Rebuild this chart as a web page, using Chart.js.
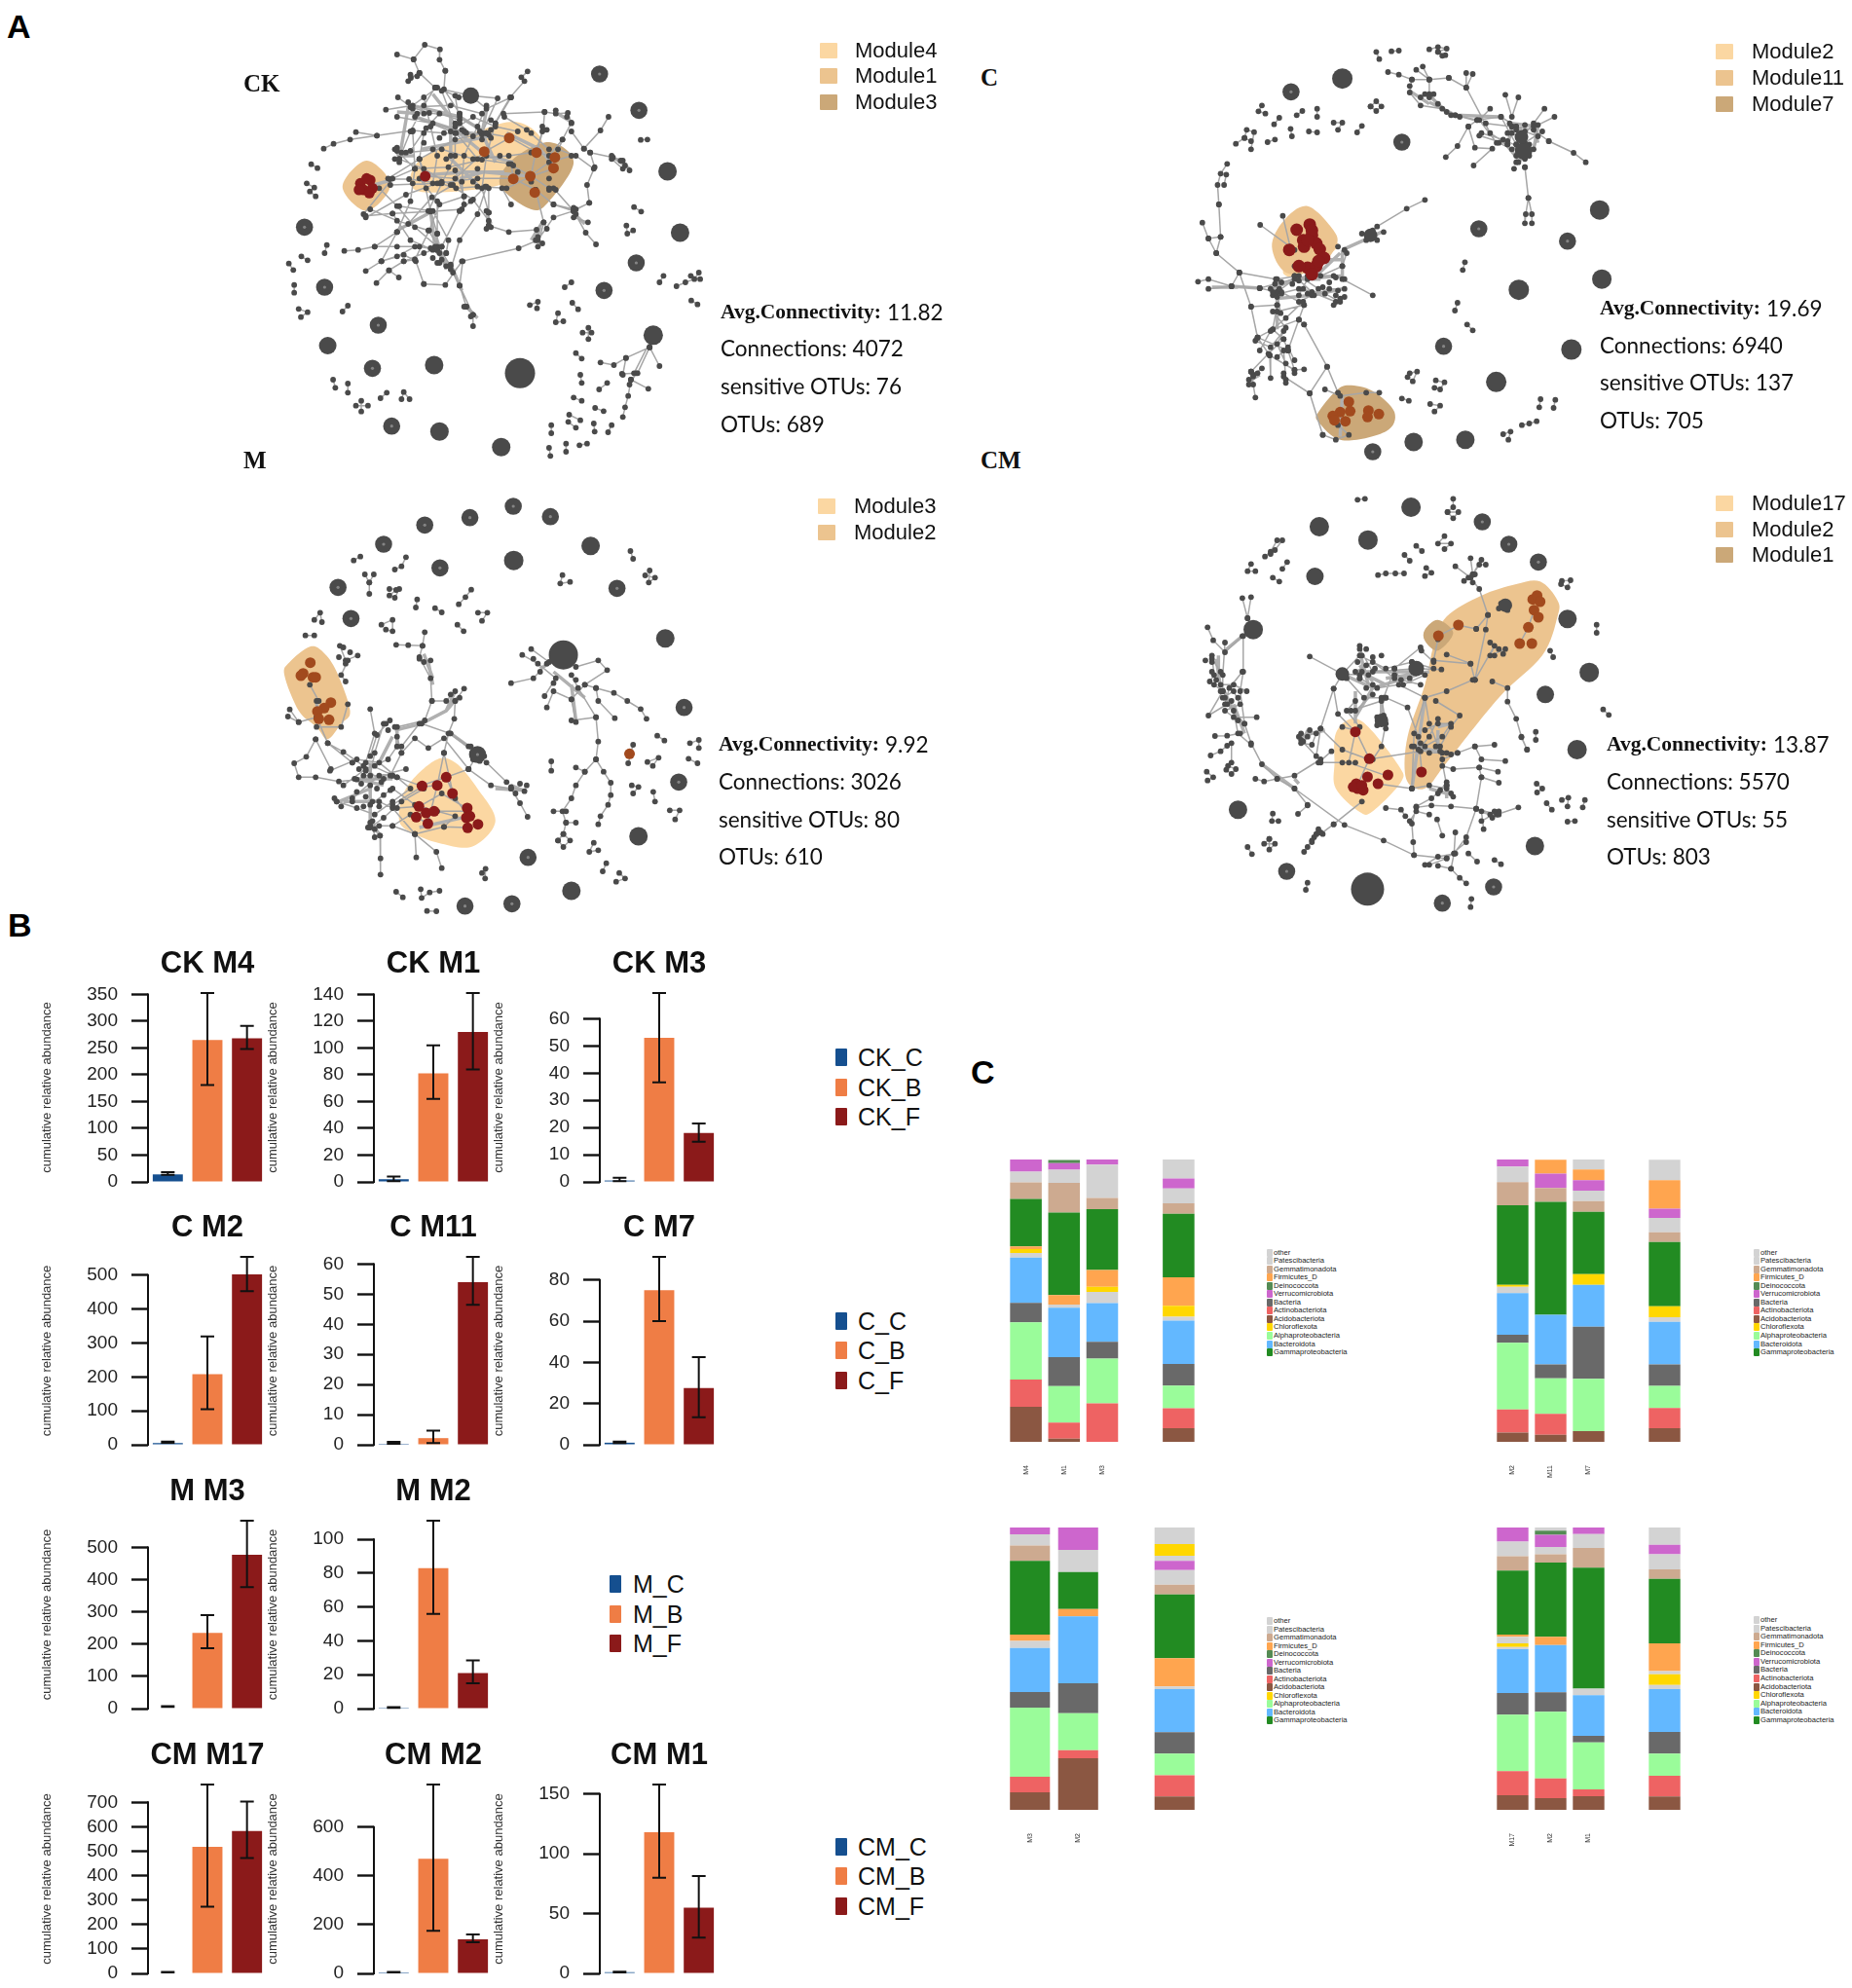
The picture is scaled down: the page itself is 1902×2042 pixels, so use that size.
<!DOCTYPE html>
<html>
<head>
<meta charset="utf-8">
<title>Networks and module abundance</title>
<script src="https://cdn.jsdelivr.net/npm/chart.js@4"></script>
<style>
  html, body { margin: 0; padding: 0; background: #fff; }
  #page { position: relative; width: 1902px; height: 2042px; overflow: hidden; font-family: "Liberation Sans", sans-serif; }
  canvas { position: absolute; }
  .txt { position: absolute; white-space: nowrap; transform: translateY(-50%); color: #111; line-height: 1; }
  .sw { position: absolute; }
</style>
</head>
<body>
<div id="page"></div>
<script>
// ---- panel A, network CK (values are read in a 1568 x 1380 picture grid) ----
const ckHubs = [905,468, 933,657, 145,1005, 383,1065, 395,1270, 533,1318, 575,1090, 873,973, 465,235];
const ckHubSizes = [9.5, 9.5, 9, 9.5, 9.5, 9.5, 15.5, 10, 8.5];
const ckRings = [753,168, 841,280, 835,750, 763,835, 138,825, 93,640, 258,942, 245,1075, 288,1253];
const ckLinks = [
  [300,108,337,123,362,78,396,92,395,124,408,158], [337,123,350,165,331,180,350,165,385,210,465,235],
  [408,158,405,215,440,290], [592,160,578,178,585,190,553,240,510,340],
  [275,278,335,265,390,210,438,240,465,235,525,243,490,350], [302,240,332,270,372,288,440,300,500,350,553,364],
  [630,285,655,290,682,288,690,318,670,370,655,425], [538,290,630,285,627,340,612,410],
  [773,300,755,342,718,398,732,410,742,455,725,510,730,565,700,585], [208,347,255,358,335,342,405,350,490,355],
  [136,398,158,383,195,370,255,358], [295,400,305,430,330,405,365,335,395,290,440,310],
  [350,430,363,483,430,490,495,408,553,364,612,410,655,425,650,460], [300,405,340,460,415,455,490,432,555,445,560,490],
  [284,492,327,492,395,505,432,520,480,515,545,520,600,483,650,460], [230,605,290,598,375,592,445,585,465,560,497,515],
  [305,575,375,590,390,660,390,710,410,760], [300,655,325,630,378,548,425,510], [340,740,372,650,395,570,450,545],
  [230,775,265,745,300,655,250,700,213,710,182,713], [254,812,282,773,315,745,340,740], [360,815,342,745,315,725,265,745],
  [282,773,304,795], [360,815,408,818,445,745,572,705,615,680,650,610,695,590,730,565], [505,635,550,655,612,648,628,625,635,645],
  [505,595,505,635], [505,520,505,595], [610,525,628,625,615,700], [650,520,695,590,722,657,745,693], [695,610,727,625],
  [695,585,650,570], [732,410,783,425,805,435,820,465], [718,398,690,345], [800,435,780,430,805,460],
  [440,820,447,745,425,780,440,820,455,885], [440,820,470,910,470,945], [455,885,470,910], [430,465,450,545],
  [555,570,535,520], [385,210,360,265,330,345,305,430], [465,235,500,275,555,240], [440,290,432,350,480,430],
  [360,350,350,430,375,590], [225,600,290,490,340,460],
  [340,300,420,345,470,300,520,330,570,345], [300,300,380,320,450,345,505,355], [330,270,420,265,490,290], [430,235,440,320,470,360],
  [360,240,375,330,390,420,380,505], [400,220,430,330,430,420,400,505,370,590], [500,265,480,330,450,420,445,500,450,570],
  [555,240,520,320,500,420,490,520,505,595], [320,410,400,400,470,430,550,420,600,410], [305,430,360,460,420,510,470,555,505,620],
  [335,345,340,460,330,560,300,655], [350,490,390,560,390,660], [260,520,300,575,340,640,390,700], [240,585,300,620,370,650,420,760],
  [290,598,330,680,380,710], [380,590,415,680,410,720], [440,590,400,700,395,750], [500,515,480,600,440,680,420,770],
  [280,490,350,430,430,370,500,350], [285,510,390,505,480,490,560,490], [550,445,600,483,640,520], [560,490,610,525,650,570,695,590],
  [600,480,640,440,690,420], [660,400,700,420,740,460], [625,345,610,410,600,480], [670,370,640,420], [540,300,590,340,640,400],
  [230,610,320,540,400,500], [250,700,300,700,350,700,390,710], [315,745,360,720,400,700], [265,745,300,730,340,700],
  [108,446,122,458], [58,752,68,772], [86,730,100,742], [70,818,70,842], [143,695,138,720], [98,505,115,518,105,530,118,545],
  [80,892,100,902,85,917], [178,900,190,882], [157,1110,162,1135], [190,1122,190,1150], [263,1167,277,1150], [310,1170,315,1148,328,1170],
  [208,1190,235,1190], [220,1175,220,1208], [830,578,846,592], [813,635,815,660,828,650], [845,371,860,370], [887,810,896,790],
  [925,822,945,810,965,800,975,780], [957,790,978,800], [958,866,972,878], [675,825,690,810], [597,880,615,870,613,890], [692,873,705,893],
  [660,905,655,933,672,930], [715,965,735,965], [728,950,728,985], [700,1028,713,1045], [710,1095,713,1120], [695,1165,713,1175],
  [743,1197,762,1207], [685,1218,710,1235], [683,1240,700,1258], [645,1250,645,1275], [740,1245,742,1270], [780,1250,772,1272],
  [708,1312,725,1307], [678,1307,678,1332], [640,1320,643,1345],
  [873,973,865,1010,812,1043,785,1065,755,1057], [865,1010,838,1090,823,1110,862,1138], [865,1010,887,1068],
  [823,1110,817,1160,810,1195,805,1225], [803,1092,835,1090,820,1125], [770,1120,752,1140], [812,1043,805,1095], [873,973,830,1090]
];
const ckBundles = [
  [335,265,440,300,500,350], [385,710,425,770,445,835], [600,680,625,625], [480,920,455,885], [660,290,695,320],
  [545,350,620,400,650,450], [235,515,295,492], [355,400,505,360], [440,490,495,470,600,483], [820,460,790,430],
  [340,300,430,340,500,420,560,440], [420,300,420,430,480,510], [380,230,420,300], [500,280,490,350,520,440], [360,480,450,470,540,470],
  [375,590,385,700], [380,590,300,650], [385,660,410,770], [500,600,510,630], [690,590,720,630], [620,640,610,690], [325,270,305,430],
  [300,285,350,290], [340,420,300,420]
];
const ckNodes = [330,170,325,190,350,165,345,175,325,255,335,275,345,290,360,290,300,395,310,410,295,430,305,440,430,320,445,340,455,350,
  430,350,485,345,500,350,510,365,490,370,520,320,510,310,625,330,635,340,655,280,680,300,690,320,385,700,395,720,380,735,400,740,420,755,
  390,750,410,720,375,705,500,590,510,640,500,645,695,580,700,600,610,680,625,690,615,670,450,885,465,915,440,590,380,400,420,420,480,460,
  530,420,560,450,570,470,600,500,640,490,640,525,655,525,360,380,395,365,410,430,470,500,365,520,335,505,780,420,810,450,600,350];
const ckRed = [218,505, 240,495, 225,525, 245,520, 232,490, 215,525, 238,535, 363,483];
const ckBrown = [495,407, 551,365, 612,410, 653,425, 650,458, 560,491, 598,483, 608,533];
const ckHullA = [232,435, 285,510, 232,590, 178,515];
const ckHullB = [340,450, 420,380, 560,315, 625,380, 560,440, 530,510, 350,530];
const ckHullC = [640,378, 695,440, 640,560, 600,585, 530,510, 560,430];

// ---- network C ----
const cHubs = [400,182, 992,587, 997,800, 806,833, 927,1017, 754,1117, 564,1302, 683,1295, 817,405, 812,362, 465,665];
const cHubSizes = [10.5, 10, 10, 10.5, 10.5, 10.5, 9.5, 9.5, 9, 7, 7];
const cRings = [282,223, 537,378, 714,645, 918,683, 633,1007, 470,1332];
const cLinks = [
  [478,100,485,122], [513,98,530,96], [600,92,620,85,640,90,620,100,637,110], [620,100,630,112], [215,265,207,283,223,290], [255,303,243,323],
  [295,295,308,282], [342,275,342,300], [380,318,400,318,390,340], [434,348,445,328], [323,345,342,348], [281,337,284,360], [228,378,245,370],
  [465,268,478,252,490,268,478,282,465,268], [155,383,175,365,180,340,197,347,190,400], [175,365,190,375],
  [135,445,120,475,113,510,116,570], [128,510,133,478], [116,570,120,670,110,720,163,780,145,822],
  [78,626,92,675,110,720], [120,670,92,675], [163,780,190,885,205,980,233,1035,235,1105], [68,808,92,800,145,822,210,828], [92,830,145,822],
  [163,780,247,800], [210,828,250,840,290,800], [250,880,240,955,205,980], [240,955,265,985,275,1020,290,1080,312,1078],
  [265,985,230,1030,190,1085], [265,1020,270,1110], [312,940,365,1070,390,1150], [300,925,240,955], [312,880,300,925,275,1020], [312,940,300,925],
  [190,1085,195,1125,200,1165], [365,1070,325,1152,355,1280], [265,1100,325,1152], [250,840,258,905], [190,885,250,880], [205,980,275,1020],
  [233,1035,290,1080], [250,900,312,880], [290,790,330,840,385,870], [400,800,470,850], [480,638,548,583,590,556], [263,605,280,700], [211,633,290,710],
  [210,828,260,810,320,790,380,790,405,800], [240,850,300,830,360,845,395,870], [260,840,300,870,330,850,370,830,405,830], [250,800,300,790,345,830],
  [290,760,350,790,400,760,410,720], [320,800,300,850], [790,330,820,345,850,360,840,400,800,420], [780,350,810,360,830,420,800,440],
  [760,380,790,400,820,380,860,345], [720,350,770,370,810,395], [660,295,730,320,790,330], [240,900,270,950,250,1000,270,1060],
  [200,990,235,1010,265,960], [310,870,270,920,235,960,210,1020], [250,1040,275,1010,290,1050], [195,1095,215,1075],
  [505,162,530,170,560,185,600,185,645,180], [560,185,555,225,580,265,630,275,660,295,710,310,765,300,800,330], [570,155,600,185,585,145],
  [600,185,600,230,640,285], [645,180,685,210,740,350,780,385], [685,165,685,210,700,168], [710,310,690,330,665,390,638,424],
  [690,330,705,395,745,398,702,450], [740,275,715,310,755,380], [775,232,790,300,805,240], [865,275,840,320,800,385], [888,300,850,325],
  [875,375,932,411,960,440], [820,455,828,550,822,600,820,628], [828,550,836,600,836,628], [800,330,840,340,875,375], [765,300,800,385,820,430], [715,358,780,385],
  [682,748,677,772], [665,873,659,897], [687,940,700,958], [555,1090,572,1085,562,1115,550,1102], [615,1112,635,1118,625,1140,612,1135],
  [537,1168,553,1175], [602,1185,625,1190,612,1208], [856,1170,853,1195], [890,1172,886,1197], [847,1238,830,1245,813,1250], [770,1278,787,1270,782,1295],
  [360,1140,395,1160,455,1150,485,1150], [355,1280,385,1295,415,1280,390,1250]
];
const cBundles = [
  [600,255,660,295,760,300], [810,330,810,430], [840,330,850,380], [400,710,450,680,490,655], [340,790,395,720], [240,830,290,800,350,800],
  [250,860,250,955], [190,1110,210,1095], [145,822,210,828], [600,235,640,285], [400,1160,395,1285], [350,740,400,740],
  [250,800,250,860,330,850,400,830], [300,800,400,790], [400,710,400,800], [790,320,850,330,840,400], [790,330,780,390,810,440],
  [660,295,640,285], [555,220,600,260], [100,825,160,825], [195,1085,190,1130]
];
const cNodes = [245,815,255,830,240,840,260,845,250,855,235,830,290,790,300,805,285,815,310,830,320,845,335,850,355,825,370,810,385,795,400,760,405,710,390,700,
  385,850,395,860,405,855,380,880,390,835,445,660,455,680,470,650,480,680,495,655,785,320,800,340,820,325,840,330,790,350,780,375,830,385,805,440,815,420,
  795,460,820,455,580,240,600,240,620,260,650,295,670,300,590,230,610,230,555,205,190,1085,185,1110,195,1100,205,1090,185,1125,265,1090,270,1120,290,1090];
const cRed = [295,648, 325,632, 310,680, 330,665, 312,700, 340,690, 278,710, 348,708, 320,765, 340,760, 358,735, 300,760, 330,785, 345,745, 330,650, 320,680];
const cBrown = [415,1178, 418,1207, 395,1210, 378,1222, 382,1235, 407,1238, 460,1205, 458,1225, 484,1216];
const cHullA = [350,690, 390,700, 300,790, 265,770];
const cHullB = [320,575, 380,650, 385,700, 340,770, 270,780, 238,700, 265,620];
const cHullC = [415,1127, 470,1145, 520,1210, 500,1270, 400,1297, 345,1240, 345,1210, 385,1145];

// ---- network M ----
const mHubs = [672,548, 561,257, 733,212, 900,497, 840,1107, 690,1275];
const mHubSizes = [15, 10, 9.5, 9.5, 9.5, 9.5];
const mRings = [362,148, 463,125, 560,90, 643,122, 270,207, 396,280, 168,340, 792,343, 197,436, 942,710, 480,855, 930,940, 593,1172, 557,1315, 452,1322];
const mLinks = [
  [203,257,218,245], [295,285,310,275,320,247], [228,300,238,325,248,300], [238,325,238,360], [283,345,305,345,295,372], [283,365,298,348], [345,377,342,402],
  [385,404,400,417], [438,392,453,370,466,347], [481,418,502,418,490,443], [435,455,449,475], [115,440,128,418,132,447], [95,488,115,488], [822,228,828,252],
  [670,302,665,328,687,323], [855,303,877,310,863,325,865,288], [645,876,645,905], [882,797,898,812], [955,820,975,810,975,835], [952,868,972,882],
  [860,878,885,865,872,890], [825,950,840,955,828,975], [873,970,877,1000], [910,1027,932,1027,922,1055], [490,1220,498,1207,497,1237], [768,1190,760,1215],
  [790,1247,810,1237,797,1220], [298,1278,313,1295], [353,1270,355,1297,373,1280,395,1275], [367,1337,388,1338], [740,1127,730,1155,750,1150],
  [660,1120,672,1100,687,1120,672,1140,660,1120], [828,825,817,882], [265,455,290,440,290,475,275,470],
  [555,635,605,620,635,575,672,548], [580,548,615,575,655,620,630,675], [600,530,640,570], [635,710,650,660,690,685,700,755],
  [690,685,720,640,770,595,750,565,700,585], [720,640,745,650,785,665,815,690,845,715,858,745], [745,650,750,690,787,743],
  [690,610,705,650,745,740,750,815,745,870,720,908,700,950,690,990,670,1030,678,1065,700,1065], [745,870,762,908,778,942,778,980,772,1010,755,1045,750,1070],
  [700,895,720,908], [650,1030,678,1030], [690,750,745,740], [678,1065,672,1100],
  [298,517,325,518,357,520,362,478], [357,520,350,555,375,620,378,690,362,750,300,770], [430,660,410,690,378,690], [450,652,430,690,428,745,415,790,405,850],
  [240,715,250,790,230,880,300,925], [284,750,255,795,240,860], [355,760,418,790,480,855,460,900,510,950,555,960], [555,960,575,1005,592,1047], [585,968,555,955],
  [118,808,97,862,70,882,80,925,118,925,170,938,210,932,270,930], [118,808,152,900], [145,820,180,847,225,890,265,940], [120,740,145,820,200,880],
  [185,630,175,610,190,565], [212,550,185,565,172,520], [120,690,120,770,175,770,190,700], [60,716,80,755,56,738], [80,755,120,740],
  [310,850,340,805,370,835,405,805,460,900], [260,1000,290,1020,340,1100,343,1172], [340,1100,388,1155,400,1205], [262,1105,263,1175,263,1225],
  [405,1078,340,1100,290,1075,240,1075], [300,1020,350,1015], [350,950,290,920,225,920], [425,975,405,850], [390,950,355,955,290,1010],
  [455,1080,405,1078,430,1045,350,1015], [345,1050,370,1068], [105,640,125,690],
  [150,905,210,870,260,880,300,925,330,960,290,1000,250,1040,210,1020,165,1000], [180,950,230,900,280,870,300,830], [200,990,260,920,320,900],
  [240,1010,290,960,340,1010], [240,1080,270,1050,310,1000,360,960], [290,1075,330,1040,390,1030,455,1030], [350,1015,400,975,455,1020],
  [410,925,430,990,460,1045], [355,950,410,925,460,900], [405,850,390,950,370,1060], [300,800,310,850,285,920], [270,760,250,850,240,920],
  [350,760,310,830], [465,830,500,880,545,940], [420,790,460,830], [245,1060,250,1110,262,1105]
];
const mBundles = [
  [240,920,240,1070], [295,780,355,760,410,720,435,680], [420,790,480,850], [520,960,585,965], [210,930,270,950], [170,1000,240,960],
  [360,545,380,620], [620,590,672,550], [350,1080,460,1045], [260,880,290,800],
  [200,930,290,930], [240,880,240,950], [180,1000,260,1000], [240,1060,260,1100], [300,780,300,840], [430,660,410,720], [120,690,125,760],
  [650,600,720,680], [690,640,700,750], [370,570,380,640], [555,950,590,970]
];
const mNodes = [200,880,215,900,230,905,250,890,205,930,220,945,240,950,255,960,210,970,230,985,245,1000,260,1015,225,1015,200,1000,165,1000,175,1015,160,990,
  270,980,285,965,290,920,240,1065,250,1085,260,1075,235,1080,430,690,440,680,420,670,360,570,375,565,350,560,180,525,195,540,170,555,185,575,575,945,
  590,950,565,975,605,560,620,600,650,635,700,625,480,840,495,860,470,870,485,875,275,760,295,770,280,780];
const mRed = [356,952, 390,950, 410,925, 424,975, 349,1015, 365,1035, 383,1030, 343,1048, 369,1068, 457,1020, 463,1045, 455,1050, 481,1070, 458,1081];
const mBrown = [106,572, 90,605, 85,612, 112,617, 118,617, 152,695, 137,712, 122,722, 125,745, 148,748, 820,853];
const mHullA = [105,523, 135,540, 165,600, 195,720, 175,760, 145,808, 120,770, 80,720, 48,610, 60,570];
const mHullB = [385,873, 430,880, 480,960, 520,1060, 470,1138, 400,1130, 340,1100, 305,1060, 320,960];

// ---- network CM ----
const cmHubs = [558,93, 347,153, 459,194, 337,306, 195,470, 918,437, 968,602, 867,670, 940,840, 843,1137, 160,1025, 458,1270, 400,607, 570,590, 775,395, 490,750];
const cmHubSizes = [10, 10, 10, 9, 10, 9.5, 10, 9, 10, 9.5, 9.5, 17, 7, 8, 7, 7];
const cmRings = [722,138, 783,207, 851,262, 272,1215, 748,1263, 630,1313];
const cmLinks = [
  [435,70,452,67], [655,67,655,93,642,108,667,108,655,127,642,108], [635,182,620,205,650,205,635,222], [570,212,583,228], [543,240,555,258],
  [482,302,500,297,522,297,542,297], [593,280,605,295,590,305], [190,268,182,290,200,290], [273,262,262,283], [240,310,255,322],
  [222,245,235,230,250,195,262,195,245,225,235,237], [905,320,925,318,918,340,903,330], [985,455,985,480], [878,535,885,555], [1000,716,1013,733],
  [845,785,845,810], [812,802,825,840], [847,945,860,960,848,972], [870,1005,882,1025], [905,995,920,988,918,1015], [958,995,953,1018], [918,1062,935,1060],
  [240,1037,238,1060,253,1060], [182,1140,192,1162], [232,1115,220,1130,245,1130,232,1148,232,1115], [320,1250,316,1272], [697,1300,695,1325], [750,1180,765,1193],
  [88,908,103,925,90,935], [137,890,155,900,145,915,133,902],
  [170,373,182,435,195,470], [190,370,182,435], [90,463,103,503,130,540,170,490], [172,490,172,600,165,660,175,760,190,820,215,885,250,930,290,960,320,1010],
  [130,510,125,610,125,660,150,720,160,790,190,825], [100,550,105,610,95,630,125,660,92,735,135,700,175,760], [203,740,150,740], [107,798,135,797,165,790],
  [135,828,120,845,97,858], [145,820,145,880], [200,930,220,938,250,930,290,920,350,870], [290,960,405,1072,495,1120,565,1165,640,1175], [298,1038,320,1012],
  [380,1070,445,1000], [380,1070,330,1120,312,1155], [345,1095,330,1125],
  [325,553,400,607,440,610], [380,652,350,775,340,860,305,810], [400,607,380,652,390,730,430,785], [440,530,470,600,570,590,628,593],
  [400,770,430,780,462,868,435,950], [430,785,415,880,500,920], [350,775,400,840,460,870,580,845], [375,845,345,880], [490,680,500,760,490,830,470,870],
  [500,680,550,710,575,800,583,910], [580,525,520,590,495,680], [610,570,582,535], [695,575,610,565,620,500],
  [700,625,640,660,590,680,565,790,560,960], [590,680,600,760,625,845,640,950,605,990,570,1015], [615,690,670,735,650,770,625,830],
  [745,630,780,650,780,692,800,745,812,800,825,840], [705,625,695,575,640,547], [705,625,750,520,740,550,775,530], [735,425,730,470,705,625],
  [708,468,735,425,715,345,695,310], [660,275,695,310,715,270,730,270], [695,250,700,300], [720,255,700,300], [808,513,828,463,841,410], [668,457,708,468], [620,490,668,457],
  [750,825,705,830,665,850,630,870], [715,895,655,900,630,890], [758,908,715,895,720,925,760,942], [775,875,720,870,705,830],
  [720,925,708,1022,685,1110,657,1160,650,1207,670,1235,685,1252], [708,1022,755,1040,805,1018], [708,1022,650,1015,605,1012,570,1018,560,1068,563,1125,565,1165],
  [618,1055,630,1105], [660,1095,657,1160], [690,1160,710,1185], [600,1195,640,1175,685,1125], [620,1198,650,1207], [725,1085,720,1030],
  [500,1020,535,1025,545,1045], [560,960,480,945],
  [400,607,440,550,500,590,560,570,610,590], [430,600,470,570,520,620,580,640], [440,620,480,650,530,640,590,680], [410,620,450,680,500,680],
  [520,590,540,640,590,610], [430,690,410,720,440,770], [470,670,430,720], [420,720,490,690], [300,800,340,790,330,825,305,820], [350,880,400,880,430,880],
  [590,780,620,760,650,760,630,800,590,830], [560,830,600,850,640,850,665,850], [620,745,600,800,575,840], [560,960,600,950,640,960,655,985], [640,940,620,975],
  [100,560,120,600,105,640], [125,680,150,660,165,700,130,720,160,750], [120,640,150,640,180,660], [170,600,140,650,130,700], [555,1060,570,1030,600,1040],
  [590,1195,620,1170,660,1160], [740,1040,760,1030,720,1060]
];
const cmBundles = [
  [430,600,570,600], [430,660,430,760], [490,680,490,760], [590,680,560,960], [300,800,360,780], [115,550,115,620], [170,490,125,540],
  [720,1030,760,1045], [290,930,300,945], [620,780,620,850], [600,960,640,975], [440,580,470,630],
  [400,607,470,650,570,610], [440,540,460,640], [440,600,500,640], [500,620,600,600], [470,650,430,740], [110,560,120,650], [125,650,160,750],
  [150,700,175,790], [620,770,650,760], [560,830,640,850], [640,950,640,990], [320,780,310,820], [210,880,290,960]
];
const cmNodes = [440,520,455,530,445,550,470,555,435,570,455,580,475,590,490,550,445,600,460,610,470,640,440,620,455,650,520,610,535,625,560,570,580,600,555,620,
  690,310,705,300,700,325,680,320,765,390,780,410,760,405,120,660,130,680,145,690,160,680,100,570,85,565,100,600,110,625,305,790,320,800,310,815,325,780,
  345,1085,355,1100,335,1110,320,1140,480,740,495,735,480,765,500,775,740,510,760,530,770,545,750,550,640,950,625,965,650,975,615,830,630,850,650,855,565,830,580,820,
  750,1030,760,1040,745,1050,340,1100,350,1095];
const cmRed = [430,785, 462,868, 505,918, 458,924, 482,945, 582,909, 432,945, 448,965, 435,960, 425,955, 445,950];
const cmBrown = [838,377, 848,365, 855,384, 841,410, 851,432, 828,463, 808,513, 836,513, 667,456, 621,489];
const cmHullA = [420,745, 460,770, 530,890, 535,940, 470,1030, 440,1032, 385,960, 382,880, 385,790];
const cmHullB = [855,322, 895,380, 895,430, 860,550, 760,680, 640,880, 600,950, 570,960, 545,920, 550,800, 590,640, 610,520, 640,430, 720,365, 800,330];
const cmHullC = [620,440, 655,480, 620,535, 590,505, 590,470];

// ---- panel B: bars are [C, B, F] ----
const barGroups = ["C", "B", "F"];
const ckM4 = [14, 265, 268],   ckM4Low = [13, 181, 248],   ckM4High = [18, 352.5, 291];
const ckM1 = [2, 81, 112],     ckM1Low = [0.5, 62, 84],    ckM1High = [4, 102, 141];
const ckM3 = [0.5, 53, 18],    ckM3Low = [0.3, 36.6, 14.8], ckM3High = [1.5, 69.5, 21.5];
const cM2 = [5, 208, 502],     cM2Low = [6, 105, 453],     cM2High = [9, 319, 554];
const cM11 = [0.3, 2.2, 54],   cM11Low = [0.3, 0.6, 46.5], cM11High = [1, 4.7, 62.4];
const cM7 = [1, 75, 27.5],     cM7Low = [0.8, 60, 13.3],   cM7High = [1.5, 91.2, 42.5];
const mM3 = [0, 235, 477],     mM3Low = [5.5, 187, 377],   mM3High = [7.5, 290, 583];
const mM2 = [0.5, 83, 21],     mM2Low = [0.5, 56, 15],     mM2High = [0.9, 111, 28.5];
const cmM17 = [0, 518, 583],   cmM17Low = [4, 273, 472],   cmM17High = [6, 773, 703];
const cmM2 = [4, 470, 140],    cmM2Low = [4, 175, 128],    cmM2High = [6, 775, 160];
const cmM1 = [1, 118, 55],     cmM1Low = [0.8, 80, 30],    cmM1High = [1.4, 158, 81.5];
const ticksBy50 = [0, 50, 100, 150, 200, 250, 300, 350];
const ticksBy20 = [0, 20, 40, 60, 80, 100, 120, 140];
const ticksBy10 = [0, 10, 20, 30, 40, 50, 60];
const ticksBy100 = [0, 100, 200, 300, 400, 500];
const ticksTo80 = [0, 20, 40, 60, 80];
const ticksTo100 = [0, 20, 40, 60, 80, 100];
const ticksTo700 = [0, 100, 200, 300, 400, 500, 600, 700];
const ticksTo600 = [0, 200, 400, 600];
const ticksTo150 = [0, 50, 100, 150];

// ---- panel C: stack layers bottom to top, each bar one value per layer (percent) ----
const layerNames = ["Acidobacteriota","Actinobacteriota","Alphaproteobacteria","Bacteria","Bacteroidota","other","Chloroflexota","other","Firmicutes_D",
  "Gammaproteobacteria","Gemmatimonadota","Patescibacteria","Verrucomicrobiota","Deinococcota","Firmicutes_D","other","Chloroflexota","other"];
const taxaLegend = ["other","Patescibacteria","Gemmatimonadota","Firmicutes_D","Deinococcota","Verrucomicrobiota","Bacteria","Actinobacteriota",
  "Acidobacteriota","Chloroflexota","Alphaproteobacteria","Bacteroidota","Gammaproteobacteria"];
const taxaColors = { other: "#d3d3d3", Patescibacteria: "#d3d3d3", Gemmatimonadota: "#cdaa90", Firmicutes_D: "#ffa54f", Deinococcota: "#548b54",
  Verrucomicrobiota: "#cd66cd", Bacteria: "#696969", Actinobacteriota: "#ee6363", Acidobacteriota: "#8b5742", Chloroflexota: "#ffd700",
  Alphaproteobacteria: "#9afc9a", Bacteroidota: "#63b8ff", Gammaproteobacteria: "#228b22" };
const stackCkM4 = [12.4,9.7,20.2,6.9,16.1,1.6,1.4,0,0.9,16.8,5.9,3.8,4.4,0,0,0,0,0];
const stackCkM1 = [1.1,5.7,12.9,10.3,17.5,1.1,0,0,3.4,29.2,10.5,4.7,2.3,1.1,0,0,0,0];
const stackCkM3 = [0,13.6,15.9,5.9,13.7,4,1.8,0,6,21.5,4,11.8,1.8,0,0,0,0,0];
const stackCkAll = [4.8,7.1,8,7.7,15.3,1.4,3.9,0,10.1,22.5,3.7,5.2,3.6,0,0,6.7,0,0];
const stackCM2 = [3.3,8.2,23.6,2.8,14.8,2.2,0.7,0,0,28.2,8.2,5.5,2.6,0,0,0,0,0];
const stackCM11 = [2.5,7.4,12.6,4.9,17.6,0,0,0,0,40,4.9,0,5.1,0,4.9,0,0,0];
const stackCM7 = [3.8,0,18.5,18.5,14.8,0,3.8,0,0,22.1,3.8,3.7,3.7,0,3.8,3.6,0,0];
const stackCAll = [4.8,7.2,7.8,7.6,15.1,1.6,3.9,0,0,22.8,3.4,5.1,3.3,0,10.1,7.2,0,0];
const stackMM3 = [6.2,5.5,24.5,5.5,15.6,0,0,2.5,2.3,26.1,5.4,4,2.4,0,0,0,0,0];
const stackMM2 = [18.3,2.8,13.1,10.6,23.7,0,0,0,2.6,13.1,0,7.9,7.9,0,0,0,0,0];
const stackMAll = [4.7,7.5,7.7,7.6,15.3,0,0,0.9,10,22.6,3.4,5.2,3.3,0,0,1.8,4.1,5.9];
const stackCmM17 = [5.2,8.5,20,7.7,15.5,0.8,1.3,2.3,0.8,22.6,5.1,5.2,5.1,0,0,0,0,0];
const stackCmM2 = [4.1,7,23.6,6.9,16.8,0,0,0,2.9,26.3,2.9,2.6,4.3,1.5,0,1.1,0,0];
const stackCmM1 = [4.8,2.4,16.7,2.3,14.4,2.3,0,0,0,42.9,7,4.9,2.3,0,0,0,0,0];
const stackCmAll = [4.7,7.4,7.8,7.7,15.2,1.4,3.8,1.1,9.9,22.8,3.4,5.3,3.4,0,0,6.1,0,0];

const page = document.getElementById("page");
Chart.defaults.animation = false;
Chart.defaults.responsive = false;

function addCanvas(left, top, width, height) {
  const c = document.createElement("canvas");
  c.width = width;
  c.height = height;
  c.style.left = left + "px";
  c.style.top = top + "px";
  page.appendChild(c);
  return c;
}

function addText(text, x, y, css) {
  const d = document.createElement("div");
  d.className = "txt";
  d.textContent = text;
  d.style.left = x + "px";
  d.style.top = y + "px";
  Object.assign(d.style, css || {});
  page.appendChild(d);
  return d;
}

function addSwatch(x, y, w, h, color) {
  const d = document.createElement("div");
  d.className = "sw";
  Object.assign(d.style, { left: x + "px", top: y - h / 2 + "px", width: w + "px", height: h + "px", background: color, borderRadius: "1px" });
  page.appendChild(d);
}

const pairs = flat => {
  const out = [];
  for (let i = 0; i < flat.length; i += 2) out.push({ x: flat[i], y: flat[i + 1] });
  return out;
};
// polylines joined into one dataset, a NaN point breaks the line
const joined = lines => lines.flatMap(l => [...pairs(l), { x: NaN, y: NaN }]);

// module outlines sit under the edges, smooth closed curve through the points
const hullPlugin = {
  id: "hulls",
  beforeDatasetsDraw(chart, args, opts) {
    const { ctx, scales } = chart;
    opts.shapes.forEach(({ points, color }) => {
      const p = pairs(points).map(q => ({ x: scales.x.getPixelForValue(q.x), y: scales.y.getPixelForValue(q.y) }));
      const n = p.length;
      ctx.save();
      ctx.fillStyle = color;
      ctx.beginPath();
      ctx.moveTo(p[0].x, p[0].y);
      for (let i = 0; i < n; i++) {
        const a = p[(i + n - 1) % n], b = p[i], c = p[(i + 1) % n], d = p[(i + 2) % n];
        ctx.bezierCurveTo(b.x + (c.x - a.x) / 6, b.y + (c.y - a.y) / 6, c.x - (d.x - b.x) / 6, c.y - (d.y - b.y) / 6, c.x, c.y);
      }
      ctx.closePath();
      ctx.fill();
      ctx.restore();
    });
  }
};

const HULL_LIGHT = "#fbd7a2", HULL_MID = "#ecc48f", HULL_DARK = "#cba878";
const NODE = "#4a4a4a", EDGE = "#a6a6a6", RED = "#8b1a1a", BROWN = "#a24a1e";

function renderNetwork(box, links, bundles, nodes, hubs, hubSizes, rings, red, brown, redSize, brownSize, shapes) {
  const cv = addCanvas(box.left, box.top, box.width, box.height);
  new Chart(cv, {
    type: "scatter",
    plugins: [hullPlugin],
    data: { datasets: [
      { data: joined(bundles), showLine: true, spanGaps: false, borderColor: "#b0b0b0", borderWidth: 3.5, pointRadius: 0, order: 9 },
      { data: joined(links), showLine: true, spanGaps: false, borderColor: EDGE, borderWidth: 1.5, pointRadius: 2.9, pointBackgroundColor: NODE, pointBorderWidth: 0, order: 8 },
      { data: pairs(nodes), pointRadius: 2.9, pointBackgroundColor: NODE, pointBorderWidth: 0, order: 7 },
      { data: pairs(brown), pointRadius: brownSize, pointBackgroundColor: BROWN, pointBorderWidth: 0, order: 6 },
      { data: pairs(red), pointRadius: redSize, pointBackgroundColor: RED, pointBorderWidth: 0, order: 5 },
      { data: pairs(hubs), pointRadius: hubSizes, pointBackgroundColor: NODE, pointBorderWidth: 0, order: 4 },
      { data: pairs(rings), pointRadius: 8.8, pointBackgroundColor: NODE, pointBorderWidth: 0, order: 3 },
      { data: pairs(rings), pointRadius: 1.6, pointBackgroundColor: "#858585", pointBorderWidth: 0, order: 2 }
    ] },
    options: {
      layout: { padding: 0, autoPadding: false },
      clip: false,
      plugins: { legend: { display: false }, tooltip: { enabled: false }, hulls: { shapes } },
      scales: {
        x: { display: false, min: 0, max: 1568 },
        y: { display: false, min: 0, max: 1380, reverse: true }
      }
    }
  });
}

renderNetwork({ left: 270, top: 20, width: 720, height: 460 }, ckLinks, ckBundles, ckNodes, ckHubs, ckHubSizes, ckRings, ckRed, ckBrown, 5.5, 5.5, [
  { points: ckHullB, color: HULL_LIGHT }, { points: ckHullA, color: HULL_MID }, { points: ckHullC, color: HULL_DARK }]);
renderNetwork({ left: 1200, top: 20, width: 700, height: 460 }, cLinks, cBundles, cNodes, cHubs, cHubSizes, cRings, cRed, cBrown, 6.5, 5.5, [
  { points: cHullA, color: HULL_LIGHT }, { points: cHullB, color: HULL_MID }, { points: cHullC, color: HULL_DARK }]);
renderNetwork({ left: 270, top: 490, width: 720, height: 460 }, mLinks, mBundles, mNodes, mHubs, mHubSizes, mRings, mRed, mBrown, 5.5, 5.5, [
  { points: mHullB, color: HULL_LIGHT }, { points: mHullA, color: HULL_MID }]);
renderNetwork({ left: 1200, top: 490, width: 700, height: 460 }, cmLinks, cmBundles, cmNodes, cmHubs, cmHubSizes, cmRings, cmRed, cmBrown, 5.5, 5.5, [
  { points: cmHullB, color: HULL_MID }, { points: cmHullA, color: HULL_LIGHT }, { points: cmHullC, color: HULL_DARK }]);

// network captions
const serifBold = { fontFamily: '"Liberation Serif", serif', fontWeight: "bold" };
[["CK", 250, 85], ["C", 1007, 79], ["M", 250, 472], ["CM", 1007, 472]].forEach(([t, x, y]) => addText(t, x, y, { ...serifBold, fontSize: "25px" }));

function moduleLegend(names, swatchX, textX, rows) {
  const colors = [HULL_LIGHT, HULL_MID, HULL_DARK];
  names.forEach((n, i) => {
    addSwatch(swatchX, rows[i], 18, 16, colors[i]);
    addText(n, textX, rows[i], { fontSize: "22px" });
  });
}
moduleLegend(["Module4", "Module1", "Module3"], 842, 878, [52, 78, 105]);
moduleLegend(["Module2", "Module11", "Module7"], 1762, 1799, [53, 80, 107]);
moduleLegend(["Module3", "Module2"], 840, 877, [520, 547]);
moduleLegend(["Module17", "Module2", "Module1"], 1762, 1799, [517, 544, 570]);

function stats(x, rows, avg, conn, sens, otus) {
  const sans = { fontFamily: "Lato, sans-serif", fontSize: "22.5px" };
  const a = addText("Avg.Connectivity:", x, rows[0], { ...serifBold, fontSize: "21.5px" });
  addText(avg, x + a.getBoundingClientRect().width + 6, rows[0], sans);
  addText("Connections: " + conn, x, rows[1], sans);
  addText("sensitive OTUs: " + sens, x, rows[2], sans);
  addText("OTUs: " + otus, x, rows[3], sans);
}
stats(740, [321, 358, 397, 436], "11.82", "4072", "76", "689");
stats(1643, [317, 355, 393, 432], "19.69", "6940", "137", "705");
stats(738, [765, 803, 842, 880], "9.92", "3026", "80", "610");
stats(1650, [765, 803, 842, 880], "13.87", "5570", "55", "803");

// panel letters
const letter = { fontFamily: '"Liberation Sans", sans-serif', fontWeight: "bold", fontSize: "34px", color: "#000" };
addText("A", 7, 27, letter);
addText("B", 8, 950, letter);
addText("C", 997, 1101, letter);

// ---- panel B bars ----
const BAR_COLORS = ["#154f8f", "#ef7d45", "#8b1a1a"];
const TITLE_SPACE = 48, SCALE_W = 115, AREA_W = 122;
const colLefts = [152, 384, 616];
const rowTops = [1020, 1291, 1562, 1833];
const rowBottoms = [1214, 1484, 1755, 2027];

const whiskerPlugin = {
  id: "whisker",
  afterDatasetsDraw(chart) {
    const { ctx, scales: { x, y } } = chart;
    const ds = chart.data.datasets[0];
    ctx.save();
    ctx.strokeStyle = "#111";
    ctx.lineWidth = 2;
    ds.low.forEach((lo, i) => {
      const px = x.getPixelForValue(i), a = y.getPixelForValue(lo), b = y.getPixelForValue(ds.high[i]);
      ctx.beginPath();
      ctx.moveTo(px, a); ctx.lineTo(px, b);
      ctx.moveTo(px - 7, a); ctx.lineTo(px + 7, a);
      ctx.moveTo(px - 7, b); ctx.lineTo(px + 7, b);
      ctx.stroke();
    });
    // the spine stops at the last labelled tick
    ctx.beginPath();
    ctx.moveTo(x.left, y.getPixelForValue(0) + 1);
    ctx.lineTo(x.left, y.getPixelForValue(ds.axisTicks[ds.axisTicks.length - 1]) - 1);
    ctx.stroke();
    ctx.restore();
  }
};

function renderBars(title, col, row, values, low, high, ticks) {
  const areaLeft = colLefts[col], top = rowTops[row], bottom = rowBottoms[row];
  const cv = addCanvas(areaLeft - SCALE_W, top - TITLE_SPACE, SCALE_W + AREA_W + 4, bottom - top + TITLE_SPACE + 14);
  new Chart(cv, {
    type: "bar",
    plugins: [whiskerPlugin],
    data: { labels: barGroups, datasets: [{ data: values, low, high, axisTicks: ticks, backgroundColor: BAR_COLORS, barPercentage: 0.76, categoryPercentage: 1 }] },
    options: {
      layout: { padding: { right: 4, bottom: 14 }, autoPadding: false },
      plugins: {
        legend: { display: false }, tooltip: { enabled: false },
        title: { display: true, text: title, fullSize: false, color: "#111", font: { size: 31, weight: "bold", family: '"Liberation Sans", sans-serif', lineHeight: 1.2 }, padding: { top: 0, bottom: 10.8 } }
      },
      scales: {
        x: { display: false },
        y: {
          min: 0, max: Math.max(...high),
          afterBuildTicks: s => { s.ticks = ticks.map(v => ({ value: v })); },
          afterFit: s => { s.width = SCALE_W; s.paddingTop = 0; s.paddingBottom = 0; },
          border: { display: false },
          grid: { drawOnChartArea: false, tickLength: 17, tickWidth: 2.4, tickColor: "#111" },
          ticks: { autoSkip: false, color: "#222", padding: 14, font: { size: 19, family: '"Liberation Sans", sans-serif' } },
          title: { display: true, text: "cumulative relative abundance", color: "#333", font: { size: 13, family: '"Liberation Sans", sans-serif' } }
        }
      }
    }
  });
}

renderBars("CK M4", 0, 0, ckM4, ckM4Low, ckM4High, ticksBy50);
renderBars("CK M1", 1, 0, ckM1, ckM1Low, ckM1High, ticksBy20);
renderBars("CK M3", 2, 0, ckM3, ckM3Low, ckM3High, ticksBy10);
renderBars("C M2", 0, 1, cM2, cM2Low, cM2High, ticksBy100);
renderBars("C M11", 1, 1, cM11, cM11Low, cM11High, ticksBy10);
renderBars("C M7", 2, 1, cM7, cM7Low, cM7High, ticksTo80);
renderBars("M M3", 0, 2, mM3, mM3Low, mM3High, ticksBy100);
renderBars("M M2", 1, 2, mM2, mM2Low, mM2High, ticksTo100);
renderBars("CM M17", 0, 3, cmM17, cmM17Low, cmM17High, ticksTo700);
renderBars("CM M2", 1, 3, cmM2, cmM2Low, cmM2High, ticksTo600);
renderBars("CM M1", 2, 3, cmM1, cmM1Low, cmM1High, ticksTo150);

function groupLegend(prefix, swatchX, textX, rows) {
  barGroups.forEach((g, i) => {
    addSwatch(swatchX, rows[i], 12, 18, BAR_COLORS[i]);
    addText(prefix + "_" + g, textX, rows[i], { fontSize: "25px" });
  });
}
groupLegend("CK", 858, 881, [1086, 1117, 1147]);
groupLegend("C", 858, 881, [1357, 1387, 1418]);
groupLegend("M", 626, 650, [1627, 1658, 1688]);
groupLegend("CM", 858, 881, [1897, 1927, 1958]);

// ---- panel C stacks ----
function renderStack(left, top, width, labels, bars) {
  const AXIS_H = 50, AREA_H = 290;
  const cv = addCanvas(left, top, width, AREA_H + AXIS_H);
  new Chart(cv, {
    type: "bar",
    data: {
      labels,
      datasets: layerNames.map((name, i) => ({
        label: name,
        data: bars.map(b => (b ? b[i] : 0)),
        backgroundColor: taxaColors[name],
        barPercentage: 0.83, categoryPercentage: 1
      }))
    },
    options: {
      layout: { padding: 0, autoPadding: false },
      plugins: { legend: { display: false }, tooltip: { enabled: false } },
      scales: {
        x: {
          stacked: true,
          afterFit: s => { s.height = AXIS_H; s.paddingLeft = 0; s.paddingRight = 0; },
          border: { display: false }, grid: { display: false },
          ticks: { autoSkip: false, minRotation: 90, maxRotation: 90, padding: 16, color: "#333", font: { size: 7 } }
        },
        y: { stacked: true, display: false, min: 0, max: 100 }
      }
    }
  });
}
renderStack(1034, 1191, 196, ["M4", "M1", "M3", "", ""], [stackCkM4, stackCkM1, stackCkM3, null, stackCkAll]);
renderStack(1534, 1191, 195, ["M2", "M11", "M7", "", ""], [stackCM2, stackCM11, stackCM7, null, stackCAll]);
renderStack(1033, 1569, 198, ["M3", "M2", "", ""], [stackMM3, stackMM2, null, stackMAll]);
renderStack(1534, 1569, 195, ["M17", "M2", "M1", "", ""], [stackCmM17, stackCmM2, stackCmM1, null, stackCmAll]);

function taxaKey(swatchX, firstRow) {
  taxaLegend.forEach((name, i) => {
    const y = firstRow + i * 8.53;
    addSwatch(swatchX, y, 6, 8, taxaColors[name]);
    addText(name, swatchX + 7, y, { fontSize: "7.6px", color: "#222" });
  });
}
taxaKey(1301, 1286.7);
taxaKey(1801, 1286.7);
taxaKey(1301, 1665);
taxaKey(1801, 1664.3);
</script>
</body>
</html>
